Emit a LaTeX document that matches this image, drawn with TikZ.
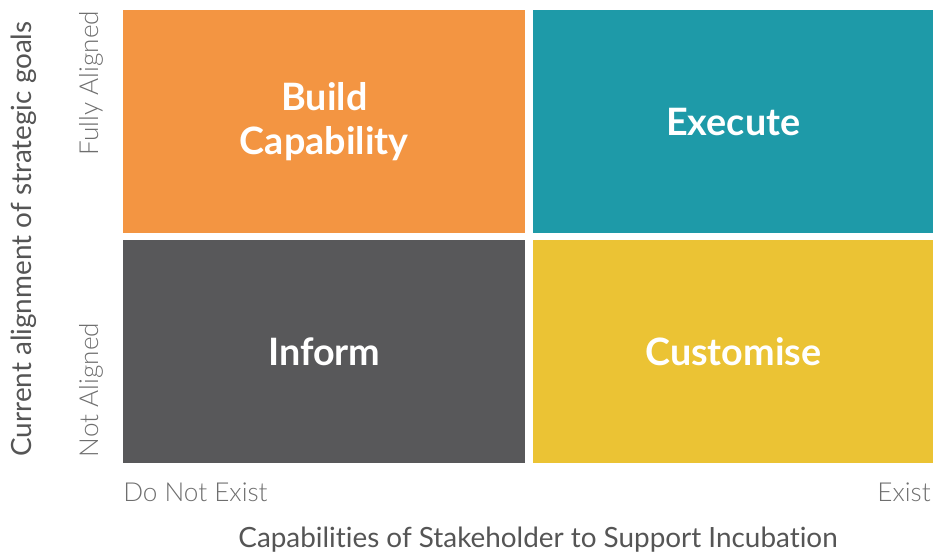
\documentclass[tikz,border=0pt]{standalone}
\usepackage{fontspec}
\setmainfont[Ligatures=NoCommon]{Lato}
\newfontfamily\latolight[Ligatures=NoCommon]{Lato Light}
\definecolor{quadOrange}{RGB}{243,149,66}
\definecolor{quadTeal}{RGB}{30,154,168}
\definecolor{quadGrey}{RGB}{88,88,90}
\definecolor{quadYellow}{RGB}{235,195,52}
\definecolor{axisGrey}{RGB}{85,85,85}
\definecolor{tickGrey}{RGB}{110,110,110}
\begin{document}
\begin{tikzpicture}[x=0.75pt,y=0.75pt,yscale=-1,xscale=1,
  quad/.style={anchor=north west, inner sep=0pt, text=white, align=center,
    font=\bfseries\fontsize{28.3}{33}\selectfont},
  ticklabel/.style={inner sep=0pt, text=tickGrey, font=\latolight\fontsize{19.6}{23}\selectfont},
  axislabel/.style={inner sep=0pt, text=axisGrey, font=\fontsize{20.9}{25}\selectfont}]
%set diagram size 933 x 554
\useasboundingbox (0,0) rectangle (933,554);

%Shape: Rectangle [orange]
\node (build) [quad, fill=quadOrange, minimum width=301.5pt, minimum height=167.25pt] at (123,10) {Build\\Capability};
%Shape: Rectangle [teal]
\node (execute) [quad, fill=quadTeal, minimum width=300pt, minimum height=167.25pt] at (533,10) {Execute};
%Shape: Rectangle [grey]
\node (inform) [quad, fill=quadGrey, minimum width=301.5pt, minimum height=167.25pt] at (123,240) {Inform};
%Shape: Rectangle [yellow]
\node (customise) [quad, fill=quadYellow, minimum width=300pt, minimum height=167.25pt] at (533,240) {Customise};

% Text Node
\node (fully) [ticklabel, rotate=90] at (91,83) {Fully Aligned};
% Text Node
\node (notaligned) [ticklabel, rotate=90] at (91,390) {Not Aligned};
% Text Node
\node (yaxis) [axislabel, rotate=90] at (24,239) {Current alignment of strategic goals};
% Text Node
\node (donot) [ticklabel, anchor=base west] at (123,501) {Do Not Exist};
% Text Node
\node (exist) [ticklabel, anchor=base east] at (931,501) {Exist};
% Text Node
\node (xaxis) [axislabel, anchor=base] at (538,547) {Capabilities of Stakeholder to Support Incubation};

\end{tikzpicture}
\end{document}
